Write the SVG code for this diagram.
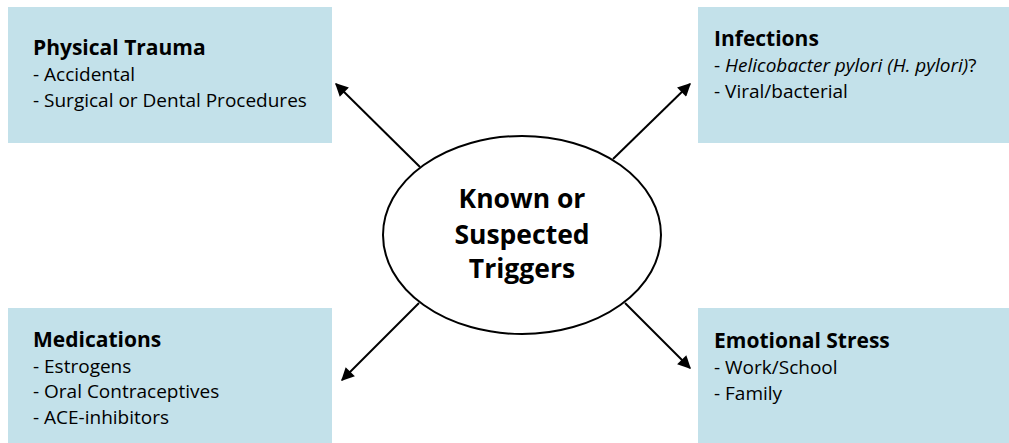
<svg xmlns="http://www.w3.org/2000/svg" width="1009" height="443" viewBox="0 0 1009 443">
  <style>
    .box { fill: #c3e1ea; }
    .title { font-family: "Open Sans", "Liberation Sans", sans-serif; font-weight: bold; font-size: 21px; fill: #000; }
    .item { font-family: "Open Sans", "Liberation Sans", sans-serif; font-size: 19px; fill: #000; }
    .hub { font-family: "Open Sans", "Liberation Sans", sans-serif; font-weight: bold; font-size: 26.5px; fill: #000; text-anchor: middle; }
    .link { stroke: #000; stroke-width: 2; fill: none; marker-end: url(#head); }
  </style>
  <defs>
    <marker id="head" viewBox="0 0 10 10" refX="9" refY="5" markerWidth="14" markerHeight="13" markerUnits="userSpaceOnUse" orient="auto">
      <path d="M0,0 L10,5 L0,10 z" fill="#000"/>
    </marker>
  </defs>
  <rect width="1009" height="443" fill="#fff"/>

  <g id="physical-trauma">
    <rect class="box" x="8" y="7" width="324" height="136"/>
    <text class="title" x="33" y="55">Physical Trauma</text>
    <text class="item" x="33" y="81">- Accidental</text>
    <text class="item" x="33" y="107">- Surgical or Dental Procedures</text>
  </g>

  <g id="infections">
    <rect class="box" x="698" y="7" width="311" height="136"/>
    <text class="title" x="714" y="46">Infections</text>
    <text class="item" x="714" y="72">- <tspan font-style="italic">Helicobacter pylori (H. pylori)</tspan>?</text>
    <text class="item" x="714" y="98">- Viral/bacterial</text>
  </g>

  <g id="medications">
    <rect class="box" x="8" y="308" width="324" height="135"/>
    <text class="title" x="33" y="347">Medications</text>
    <text class="item" x="33" y="373">- Estrogens</text>
    <text class="item" x="33" y="398">- Oral Contraceptives</text>
    <text class="item" x="33" y="424">- ACE-inhibitors</text>
  </g>

  <g id="emotional-stress">
    <rect class="box" x="698" y="308" width="311" height="135"/>
    <text class="title" x="714" y="348">Emotional Stress</text>
    <text class="item" x="714" y="374">- Work/School</text>
    <text class="item" x="714" y="400">- Family</text>
  </g>

  <g id="triggers">
    <ellipse cx="522" cy="235" rx="139" ry="99" fill="#fff" stroke="#000" stroke-width="2"/>
    <text class="hub" x="522" y="208">Known or</text>
    <text class="hub" x="522" y="244">Suspected</text>
    <text class="hub" x="522" y="278">Triggers</text>
  </g>

  <g id="connectors">
    <line class="link" x1="420" y1="167" x2="336" y2="84"/>
    <line class="link" x1="613" y1="159" x2="690" y2="84"/>
    <line class="link" x1="419" y1="303" x2="342" y2="380"/>
    <line class="link" x1="625" y1="303" x2="690" y2="368"/>
  </g>
</svg>
